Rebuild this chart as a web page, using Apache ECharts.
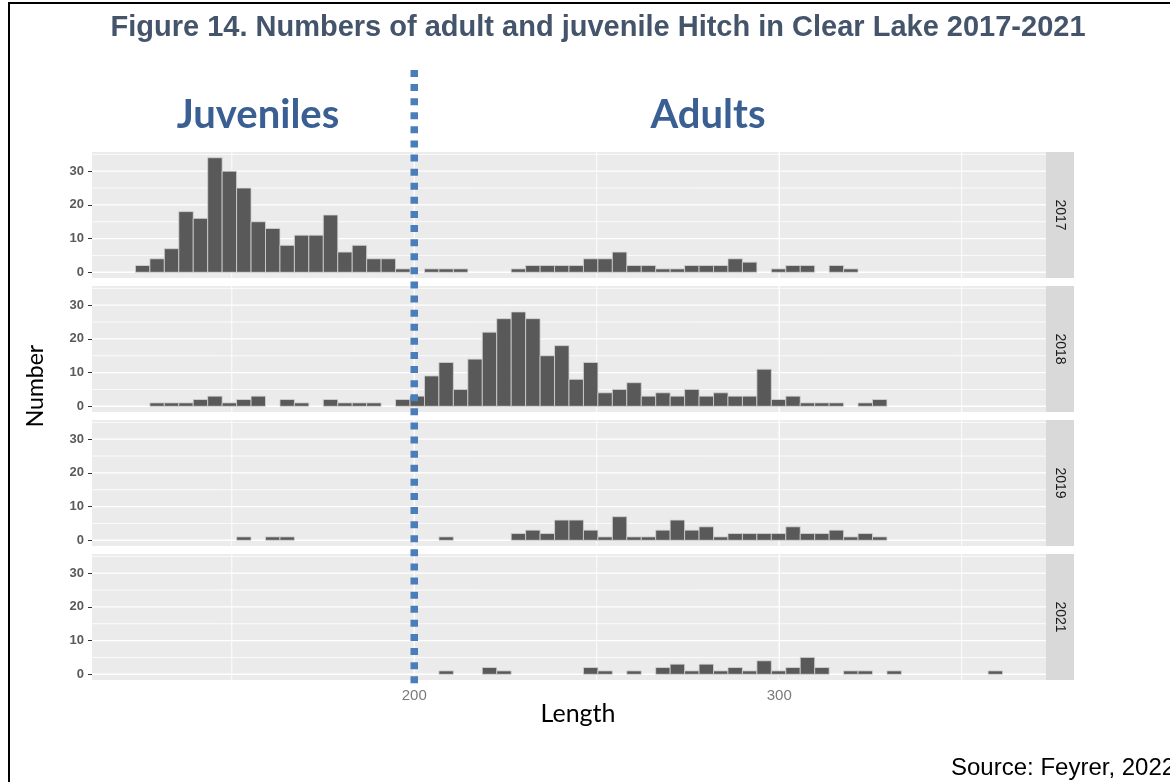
<!DOCTYPE html>
<html>
<head>
<meta charset="utf-8">
<title>Hitch in Clear Lake 2017-2021</title>
<script src="https://cdn.jsdelivr.net/npm/echarts@6/dist/echarts.min.js"></script>
<style>
  html, body { margin: 0; padding: 0; background: #ffffff; }
  #chart { width: 1170px; height: 782px; }
</style>
</head>
<body>
<div id="chart"></div>
<script>
// Histogram bins of fish length (mm): 60 bins of equal width
const BIN_START = 123.6;
const BIN_WIDTH = 3.96;

const years = ['2017', '2018', '2019', '2021'];

// Counts per length bin, one array per survey year
const counts2017 = [2,4,7,18,16,34,30,25,15,13, 8,11,11,17,6,8,4,4,1,0, 1,1,1,0,0,0,1,2,2,2, 2,4,4,6,2,2,1,1,2,2, 2,4,3,0,1,2,2,0,2,1, 0,0,0,0,0,0,0,0,0,0];
const counts2018 = [0,1,1,1,2,3,1,2,3,0, 2,1,0,2,1,1,1,0,2,3, 9,13,5,14,22,26,28,26,15,18, 8,13,4,5,7,3,4,3,5,3, 4,3,3,11,2,3,1,1,1,0, 1,2,0,0,0,0,0,0,0,0];
const counts2019 = [0,0,0,0,0,0,0,1,0,1, 1,0,0,0,0,0,0,0,0,0, 0,1,0,0,0,0,2,3,2,6, 6,3,1,7,1,1,3,6,3,4, 1,2,2,2,2,4,2,2,3,1, 2,1,0,0,0,0,0,0,0,0];
const counts2021 = [0,0,0,0,0,0,0,0,0,0, 0,0,0,0,0,0,0,0,0,0, 0,1,0,0,2,1,0,0,0,0, 0,2,1,0,1,0,2,3,1,3, 1,2,1,4,1,2,5,2,0,1, 1,0,1,0,0,0,0,0,0,1];
const countsByYear = [counts2017, counts2018, counts2019, counts2021];

// Axis ticks and grid lines
const xTickLabels = [200, 300];
const xGridValues = [150, 200, 250, 300, 350];
const yTickLabels = [0, 10, 20, 30];
const yGridValues = [0, 5, 10, 15, 20, 25, 30, 35];
const X_MIN = 111.7, X_MAX = 373.1;
const Y_MIN = -1.7, Y_MAX = 35.7;

// Boundary between juveniles and adults (mm)
const ADULT_LENGTH = 200;

// Panel layout (px)
const PANEL_LEFT = 92;
const PANEL_WIDTH = 954;
const PANEL_TOPS = [152, 286, 420, 554];
const PANEL_H = 126;
const STRIP_W = 28;

const chart = echarts.init(document.getElementById('chart'), null, { renderer: 'canvas' });

const grids = [], xAxes = [], yAxes = [], series = [];

PANEL_TOPS.forEach((top, i) => {
  const isBottom = i === PANEL_TOPS.length - 1;
  grids.push({
    left: PANEL_LEFT, width: PANEL_WIDTH, top: top, height: PANEL_H,
    show: true, backgroundColor: '#ebebeb', borderWidth: 0, containLabel: false
  });
  xAxes.push({
    type: 'value', gridIndex: i, min: X_MIN, max: X_MAX,
    axisLine: { show: false },
    splitLine: { show: false },
    axisTick: { show: isBottom, customValues: xTickLabels, length: 4, lineStyle: { color: '#333333', width: 1 } },
    axisLabel: { show: isBottom, customValues: xTickLabels, color: '#7a7a7a', fontSize: 15, margin: 8, fontFamily: 'Liberation Sans, Arial, sans-serif' }
  });
  yAxes.push({
    type: 'value', gridIndex: i, min: Y_MIN, max: Y_MAX,
    axisLine: { show: false },
    splitLine: { show: false },
    axisTick: { show: true, customValues: yTickLabels, length: 4, lineStyle: { color: '#333333', width: 1 } },
    axisLabel: { show: true, customValues: yTickLabels, color: '#5a5a5a', fontSize: 13, fontWeight: 'bold', margin: 8, fontFamily: 'Liberation Sans, Arial, sans-serif' }
  });

  // white grid lines: horizontal
  series.push({
    type: 'custom', xAxisIndex: i, yAxisIndex: i, z: 1, silent: true,
    data: yGridValues.map(v => [v]),
    encode: { y: 0 },
    renderItem: function (params, api) {
      const v = api.value(0);
      const cs = params.coordSys;
      const y = api.coord([X_MIN, v])[1];
      const major = v % 10 === 0;
      return {
        type: 'line',
        shape: { x1: cs.x, y1: y, x2: cs.x + cs.width, y2: y },
        style: { stroke: '#ffffff', lineWidth: major ? 1.3 : 0.8 }
      };
    }
  });
  // white grid lines: vertical
  series.push({
    type: 'custom', xAxisIndex: i, yAxisIndex: i, z: 1, silent: true,
    data: xGridValues.map(v => [v]),
    encode: { x: 0 },
    renderItem: function (params, api) {
      const v = api.value(0);
      const cs = params.coordSys;
      const x = api.coord([v, 0])[0];
      const major = xTickLabels.indexOf(v) >= 0;
      return {
        type: 'line',
        shape: { x1: x, y1: cs.y, x2: x, y2: cs.y + cs.height },
        style: { stroke: '#ffffff', lineWidth: major ? 1.3 : 0.9 }
      };
    }
  });

  // histogram bars
  const barData = [];
  countsByYear[i].forEach((c, k) => {
    if (c > 0) barData.push([BIN_START + k * BIN_WIDTH, BIN_START + (k + 1) * BIN_WIDTH, c]);
  });
  series.push({
    type: 'custom', name: years[i], xAxisIndex: i, yAxisIndex: i, z: 2,
    data: barData,
    encode: { x: [0, 1], y: 2 },
    clip: true,
    renderItem: function (params, api) {
      const p0 = api.coord([api.value(0), api.value(2)]);
      const p1 = api.coord([api.value(1), 0]);
      return {
        type: 'rect',
        shape: { x: p0[0], y: p0[1], width: p1[0] - p0[0], height: p1[1] - p0[1] },
        style: { fill: '#595959', stroke: '#d4d4d4', lineWidth: 0.8 }
      };
    }
  });
});

// Facet strips on the right of each panel
const strips = [];
PANEL_TOPS.forEach((top, i) => {
  strips.push({
    type: 'rect', silent: true,
    shape: { x: PANEL_LEFT + PANEL_WIDTH, y: top, width: STRIP_W, height: PANEL_H },
    style: { fill: '#d9d9d9' }
  });
  strips.push({
    type: 'text', silent: true,
    x: PANEL_LEFT + PANEL_WIDTH + STRIP_W / 2, y: top + PANEL_H / 2,
    rotation: -Math.PI / 2,
    style: { text: years[i], fill: '#1a1a1a', font: '14px "Liberation Sans", Arial, sans-serif', align: 'center', verticalAlign: 'middle' }
  });
});

const texts = [
  { type: 'rect', silent: true, shape: { x: 9, y: 3, width: 1200, height: 800 }, style: { fill: null, stroke: '#000000', lineWidth: 2 } },
  { type: 'text', silent: true, x: 598, y: 28,
    style: { text: 'Figure 14. Numbers of adult and juvenile Hitch in Clear Lake 2017-2021', fill: '#44546a',
      font: 'bold 29px "Liberation Sans", Arial, sans-serif', align: 'center', verticalAlign: 'middle' } },
  { type: 'text', silent: true, x: 258, y: 115,
    style: { text: 'Juveniles', fill: '#3a5f93', font: 'bold 40px Lato, "Open Sans", sans-serif', align: 'center', verticalAlign: 'middle' } },
  { type: 'text', silent: true, x: 708, y: 115,
    style: { text: 'Adults', fill: '#3a5f93', font: 'bold 40px Lato, "Open Sans", sans-serif', align: 'center', verticalAlign: 'middle' } },
  { type: 'text', silent: true, x: 36, y: 386, rotation: Math.PI / 2,
    style: { text: 'Number', fill: '#000000', font: '23px Lato, "Open Sans", sans-serif', align: 'center', verticalAlign: 'middle' } },
  { type: 'text', silent: true, x: 578, y: 714,
    style: { text: 'Length', fill: '#000000', font: '25px Lato, "Open Sans", sans-serif', align: 'center', verticalAlign: 'middle' } },
  { type: 'text', silent: true, x: 951, y: 768,
    style: { text: 'Source: Feyrer, 2022', fill: '#000000', font: '24px "Liberation Sans", Arial, sans-serif', align: 'left', verticalAlign: 'middle' } }
];

chart.setOption({
  animation: false,
  backgroundColor: '#ffffff',
  grid: grids,
  xAxis: xAxes,
  yAxis: yAxes,
  series: series,
  graphic: { elements: texts.concat(strips) }
});

// Dashed divider at the juvenile/adult boundary, spanning all panels
const dividerX = chart.convertToPixel({ xAxisIndex: 0 }, ADULT_LENGTH);
const bottomZeroY = chart.convertToPixel({ yAxisIndex: PANEL_TOPS.length - 1 }, 0);
chart.setOption({
  graphic: { elements: texts.concat(strips).concat([{
    type: 'line', silent: true, z: 100,
    shape: { x1: dividerX, y1: bottomZeroY + 9, x2: dividerX, y2: 68 },
    style: { stroke: '#4a7ebb', lineWidth: 7.5, lineDash: [7, 7.1], lineCap: 'butt' }
  }]) }
});
</script>
</body>
</html>
